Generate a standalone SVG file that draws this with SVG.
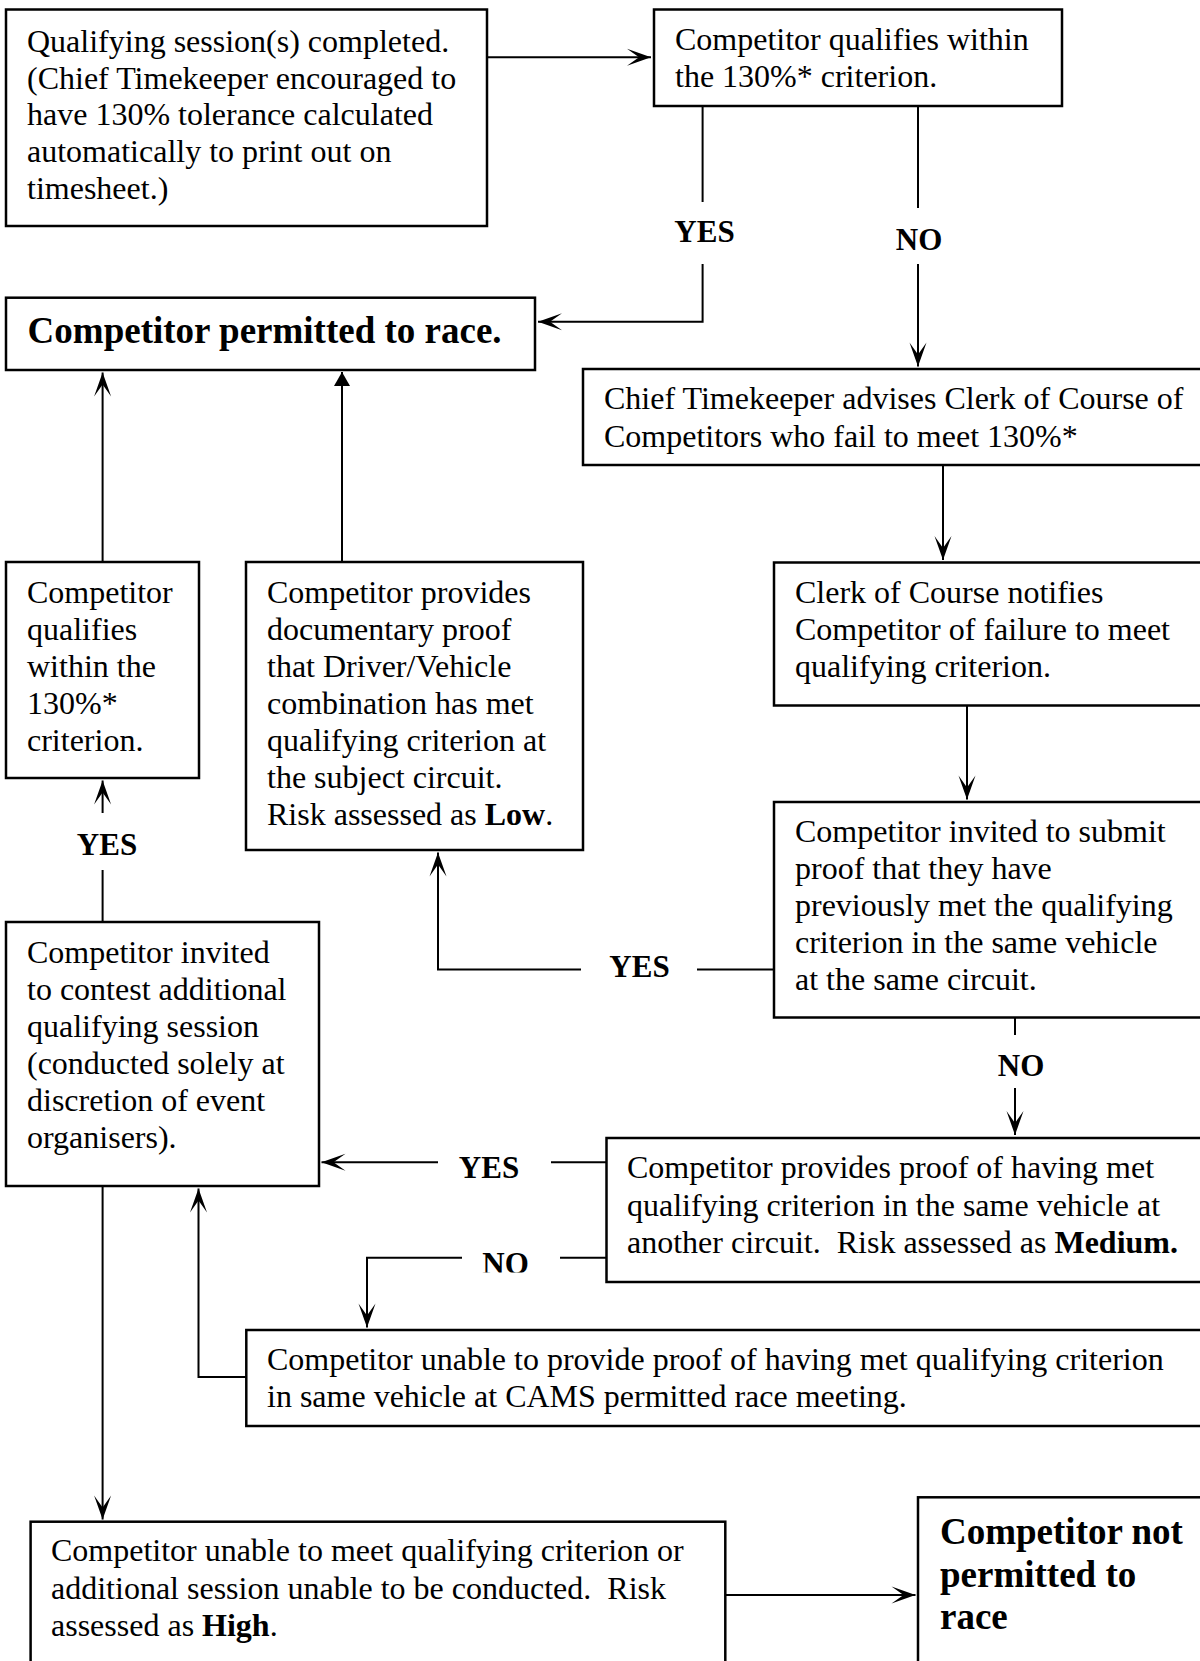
<svg xmlns="http://www.w3.org/2000/svg" width="1200" height="1661" viewBox="0 0 1200 1661">
<defs>
<style>
.box{fill:#fff;stroke:#000;stroke-width:2.5}
.t{font-family:"Liberation Serif","Times New Roman",serif;font-size:32px;fill:#000;white-space:pre}
.b{font-weight:bold}
.big{font-family:"Liberation Serif","Times New Roman",serif;font-size:37px;font-weight:bold;fill:#000}
.lbl{font-family:"Liberation Serif","Times New Roman",serif;font-size:31px;font-weight:bold;fill:#000;text-anchor:middle}
.c{fill:none;stroke:#000;stroke-width:2}
</style>
<marker id="arr" viewBox="-26 -10 28 20" refX="0" refY="0" markerWidth="28" markerHeight="20" markerUnits="userSpaceOnUse" orient="auto">
<path d="M0,0 L-24,-8.5 L-12,0 L-24,8.5 Z" fill="#000"/>
</marker>
<marker id="tri" viewBox="-16 -9 17 18" refX="0" refY="0" markerWidth="17" markerHeight="18" markerUnits="userSpaceOnUse" orient="auto">
<path d="M0,0 L-14,-8 L-14,8 Z" fill="#000"/>
</marker>
<clipPath id="noclip"><rect x="470" y="1240" width="70" height="32.5"/></clipPath>
</defs>
<rect width="1200" height="1661" fill="#fff"/>

<g id="connectors">
<path class="c" d="M487,57.3 H651" marker-end="url(#arr)"/>
<path class="c" d="M702.6,106 V202"/>
<path class="c" d="M702.6,264 V321.7 H538" marker-end="url(#arr)"/>
<path class="c" d="M918,106 V208"/>
<path class="c" d="M918,264 V366.5" marker-end="url(#arr)"/>
<path class="c" d="M943,465 V560" marker-end="url(#arr)"/>
<path class="c" d="M967,705.5 V799.5" marker-end="url(#arr)"/>
<path class="c" d="M774,969.5 H697"/>
<path class="c" d="M581,969.5 H438 V852.5" marker-end="url(#arr)"/>
<path class="c" d="M1015,1017.5 V1035"/>
<path class="c" d="M1015,1088 V1135" marker-end="url(#arr)"/>
<path class="c" d="M342,562 V372" marker-end="url(#tri)"/>
<path class="c" d="M102.6,562 V372.5" marker-end="url(#arr)"/>
<path class="c" d="M102.6,922 V870"/>
<path class="c" d="M102.6,813 V780.5" marker-end="url(#arr)"/>
<path class="c" d="M606.5,1162.3 H551"/>
<path class="c" d="M438,1162.3 H321.5" marker-end="url(#arr)"/>
<path class="c" d="M606.5,1257.7 H560"/>
<path class="c" d="M462,1257.7 H367 V1327.5" marker-end="url(#arr)"/>
<path class="c" d="M246.3,1377 H198.5 V1188.5" marker-end="url(#arr)"/>
<path class="c" d="M102.6,1186 V1519.5" marker-end="url(#arr)"/>
<path class="c" d="M725.3,1595 H915.5" marker-end="url(#arr)"/>
<text class="lbl" x="704.5" y="242">YES</text>
<text class="lbl" x="919" y="250">NO</text>
<text class="lbl" x="639.5" y="977">YES</text>
<text class="lbl" x="1021" y="1076">NO</text>
<text class="lbl" x="107" y="855">YES</text>
<text class="lbl" x="489" y="1177.5">YES</text>
<text class="lbl" x="505.5" y="1274" clip-path="url(#noclip)">NO</text>
</g>

<g id="node-qualifying-session">
<rect class="box" x="6" y="9.5" width="481" height="216.5"/>
<text class="t" x="27" y="52">Qualifying session(s) completed.</text>
<text class="t" x="27" y="88.7">(Chief Timekeeper encouraged to</text>
<text class="t" x="27" y="125.4">have 130% tolerance calculated</text>
<text class="t" x="27" y="162.1">automatically to print out on</text>
<text class="t" x="27" y="198.8">timesheet.)</text>
</g>

<g id="node-qualifies-within">
<rect class="box" x="654" y="9.5" width="408" height="96.5"/>
<text class="t" x="675" y="50">Competitor qualifies within</text>
<text class="t" x="675" y="87.3">the 130%* criterion.</text>
</g>

<g id="node-permitted">
<rect class="box" x="6" y="297.7" width="529" height="72.3"/>
<text class="big" x="27.6" y="343">Competitor permitted to race.</text>
</g>

<g id="node-timekeeper-advises">
<rect class="box" x="583" y="369" width="640" height="96"/>
<text class="t" x="604" y="408.5">Chief Timekeeper advises Clerk of Course of</text>
<text class="t" x="604" y="446.5">Competitors who fail to meet 130%*</text>
</g>

<g id="node-clerk-notifies">
<rect class="box" x="774" y="562.5" width="450" height="143"/>
<text class="t" x="795" y="602.5">Clerk of Course notifies</text>
<text class="t" x="795" y="639.7">Competitor of failure to meet</text>
<text class="t" x="795" y="676.9">qualifying criterion.</text>
</g>

<g id="node-invited-submit">
<rect class="box" x="774" y="802" width="450" height="215.5"/>
<text class="t" x="795" y="842">Competitor invited to submit</text>
<text class="t" x="795" y="879">proof that they have</text>
<text class="t" x="795" y="916">previously met the qualifying</text>
<text class="t" x="795" y="953">criterion in the same vehicle</text>
<text class="t" x="795" y="990">at the same circuit.</text>
</g>

<g id="node-documentary-proof">
<rect class="box" x="246" y="562" width="337" height="288"/>
<text class="t" x="267" y="602.7">Competitor provides</text>
<text class="t" x="267" y="639.7">documentary proof</text>
<text class="t" x="267" y="676.7">that Driver/Vehicle</text>
<text class="t" x="267" y="713.7">combination has met</text>
<text class="t" x="267" y="750.7">qualifying criterion at</text>
<text class="t" x="267" y="787.7">the subject circuit.</text>
<text class="t" x="267" y="824.7">Risk assessed as <tspan class="b">Low</tspan>.</text>
</g>

<g id="node-qualifies-left">
<rect class="box" x="6" y="562" width="193" height="216"/>
<text class="t" x="27" y="602.7">Competitor</text>
<text class="t" x="27" y="639.7">qualifies</text>
<text class="t" x="27" y="676.7">within the</text>
<text class="t" x="27" y="713.7">130%*</text>
<text class="t" x="27" y="750.7">criterion.</text>
</g>

<g id="node-additional-session">
<rect class="box" x="6" y="922" width="313" height="264"/>
<text class="t" x="27" y="962.7">Competitor invited</text>
<text class="t" x="27" y="999.8">to contest additional</text>
<text class="t" x="27" y="1036.9">qualifying session</text>
<text class="t" x="27" y="1074">(conducted solely at</text>
<text class="t" x="27" y="1111.1">discretion of event</text>
<text class="t" x="27" y="1148.2">organisers).</text>
</g>

<g id="node-medium">
<rect class="box" x="606.5" y="1138" width="620" height="144"/>
<text class="t" x="627" y="1178.3">Competitor provides proof of having met</text>
<text class="t" x="627" y="1215.5">qualifying criterion in the same vehicle at</text>
<text class="t" x="627" y="1252.7">another circuit.  Risk assessed as <tspan class="b">Medium.</tspan></text>
</g>

<g id="node-unable-proof">
<rect class="box" x="246.3" y="1330" width="980" height="96"/>
<text class="t" x="267" y="1370">Competitor unable to provide proof of having met qualifying criterion</text>
<text class="t" x="267" y="1406.7">in same vehicle at CAMS permitted race meeting.</text>
</g>

<g id="node-high">
<rect class="box" x="30.6" y="1521.7" width="694.7" height="160"/>
<text class="t" x="51" y="1561">Competitor unable to meet qualifying criterion or</text>
<text class="t" x="51" y="1598.5">additional session unable to be conducted.  Risk</text>
<text class="t" x="51" y="1636">assessed as <tspan class="b">High</tspan>.</text>
</g>

<g id="node-not-permitted">
<rect class="box" x="918" y="1497.3" width="310" height="190"/>
<text class="big" x="940" y="1544">Competitor not</text>
<text class="big" x="940" y="1586.5">permitted to</text>
<text class="big" x="940" y="1629">race</text>
</g>
</svg>
